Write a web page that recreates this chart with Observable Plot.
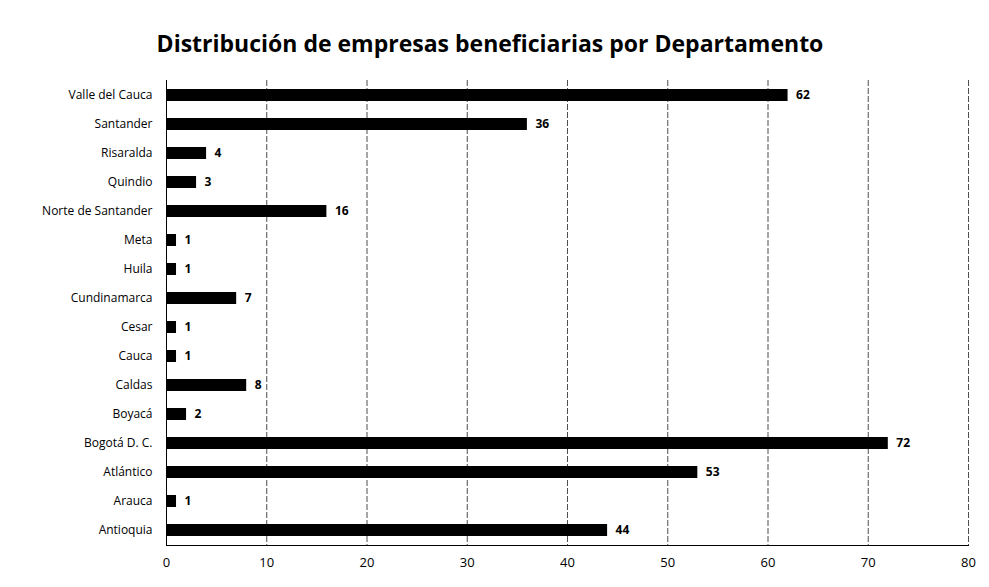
<!DOCTYPE html>
<html><head><meta charset="utf-8">
<script src="https://cdn.jsdelivr.net/npm/d3@7"></script>
<script src="https://cdn.jsdelivr.net/npm/@observablehq/plot@0.6"></script>
<style>
body{margin:0;background:#fff;font-family:"Open Sans",sans-serif;}
#title{height:65px;box-sizing:border-box;padding-top:28px;font-weight:bold;font-size:23px;line-height:30px;color:#000;text-align:center;width:980px;}
</style>
</head><body>
<div id="title">Distribución de empresas beneficiarias por Departamento</div>
<div id="chart"></div>
<script>
const departamentos = ["Valle del Cauca","Santander","Risaralda","Quindio","Norte de Santander","Meta","Huila","Cundinamarca","Cesar","Cauca","Caldas","Boyacá","Bogotá D. C.","Atlántico","Arauca","Antioquia"];
const empresas = [62,36,4,3,16,1,1,7,1,1,8,2,72,53,1,44];
const xTicks = [0,10,20,30,40,50,60,70,80];

const data = departamentos.map((d,i)=>({dep:d, n:empresas[i]}));

const chart = Plot.plot({
  width: 989,
  height: 522,
  marginTop: 15,
  marginBottom: 42,
  marginLeft: 166,
  marginRight: 21,
  style: {fontFamily: "'Open Sans', sans-serif", fontSize: "12px", color: "#000", background: "#fff"},
  x: {domain: [0,80], label: null},
  y: {domain: departamentos, paddingInner: 0.6, paddingOuter: 0.3, label: null},
  marks: [
    Plot.ruleX(xTicks.slice(1), {stroke: "#222", strokeWidth: 1, strokeDasharray: "6,2", strokeOpacity: 0.8}),
    Plot.ruleX([0], {stroke: "#000", strokeWidth: 1}),
    Plot.frame({anchor: "bottom", stroke: "#000"}),
    Plot.barX(data, {y: "dep", x: "n", fill: "#000"}),
    Plot.text(data, {y: "dep", x: "n", text: d=>String(d.n), dx: 8, textAnchor: "start", fontWeight: "bold", fontSize: 12}),
    Plot.axisX({ticks: xTicks, tickSize: 0, tickPadding: 12, fontSize: 13}),
    Plot.axisY({tickSize: 0, tickPadding: 14, fontSize: 12})
  ]
});
document.getElementById("chart").appendChild(chart);
</script>
</body></html>
